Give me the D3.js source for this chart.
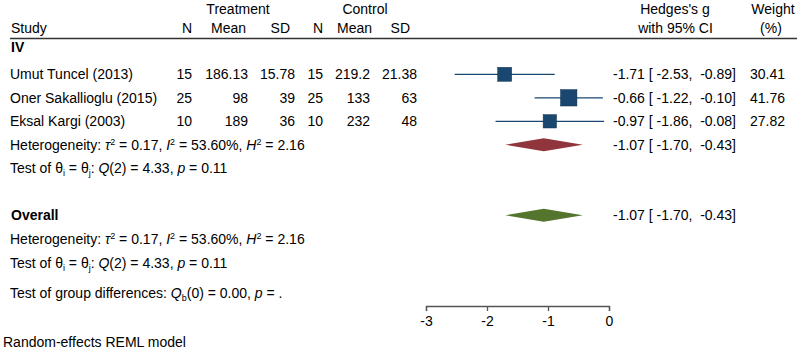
<!DOCTYPE html>
<html>
<head>
<meta charset="utf-8">
<script src="https://cdn.jsdelivr.net/npm/d3@7"></script>
<style>
  body { margin: 0; background: #fff; }
  svg { display: block; font-family: "Liberation Sans", Arial, sans-serif; font-size: 14px; }
  text { fill: #000; white-space: pre; }
</style>
</head>
<body>
<div class="forest"></div>
<script>
// Data
const studies = ['Umut Tuncel (2013)', 'Oner Sakallioglu (2015)', 'Eksal Kargi (2003)'];
const nT = [15, 25, 10];
const meanT = ['186.13', '98', '189'];
const sdT = ['15.78', '39', '36'];
const nC = [15, 25, 10];
const meanC = ['219.2', '133', '232'];
const sdC = ['21.38', '63', '48'];
const g = [-1.71, -0.66, -0.97];
const ciLow = [-2.53, -1.22, -1.86];
const ciHigh = [-0.89, -0.10, -0.08];
const weight = [30.41, 41.76, 27.82];

// pooled estimates: subgroup IV, overall
const pooled = [
    { name: 'IV', g: -1.07, lo: -1.70, hi: -0.43 },
    { name: 'Overall', g: -1.07, lo: -1.70, hi: -0.43 }
];
const het = { tau2: '0.17', i2: '53.60%', h2: '2.16', df: 2, q: '4.33', p: '0.11' };
const groupTest = { df: 0, q: '0.00', p: '.' };
const ticks = [-3, -2, -1, 0];

// 用一般的 "-" 而不是 unicode minus
const fmt = d => d.toFixed(2);
// Stata 的 "[%6.2f, %6.2f]" 格式
const ciText = (est, lo, hi) => `${fmt(est)} [ ${fmt(lo)},  ${fmt(hi)}]`;

// set svg
const svg_width = 800, svg_height = 352;
const svg = d3.select('.forest').append('svg')
    .attr('width', svg_width).attr('height', svg_height);

const xScale = d3.scaleLinear([-3, 0], [426, 609]);
// row positions (row 0 = first study)
const rowY = d3.scaleLinear([0, 1], [74.3, 97.8]);
const sizeScale = d3.scaleSqrt([0, 100], [0, 25.4]);

const blue = '#1a476f', red = '#90353b', green = '#55752f';

function txt(x, y, s, anchor, bold) {
    return svg.append('text').attr('x', x).attr('y', y).attr('dy', '0.35em')
        .attr('text-anchor', anchor || 'start')
        .style('font-weight', bold ? 'bold' : null)
        .text(s);
}

// header
const h1 = rowY(-2.79), h2 = rowY(-1.97);
txt(238, h1, 'Treatment', 'middle');
txt(365, h1, 'Control', 'middle');
txt(675, h1, "Hedges's g", 'middle');
txt(773, h1, 'Weight', 'middle');
txt(11, h2, 'Study');
[['N', 192], ['Mean', 246], ['SD', 290], ['N', 323], ['Mean', 372], ['SD', 410]]
    .forEach(d => txt(d[1], h2, d[0], 'end'));
txt(675.5, h2, 'with 95% CI', 'middle');
txt(771, h2, '(%)', 'middle');
svg.append('line').attr('x1', 10).attr('x2', 797).attr('y1', 38.5).attr('y2', 38.5)
    .attr('stroke', '#333').attr('stroke-width', 1.5);

txt(11, rowY(-1.17), 'IV', 'start', true);

// study rows
const cols = [[nT, 192], [meanT, 248], [sdT, 295], [nC, 323], [meanC, 370], [sdC, 417]];
studies.forEach((s, i) => {
    const y = rowY(i);
    txt(10, y, s);
    cols.forEach(c => txt(c[1], y, String(c[0][i]), 'end'));
    txt(613, y, ciText(g[i], ciLow[i], ciHigh[i]));
    txt(785, y, fmt(weight[i]), 'end');
});

// CI lines + squares
const marks = svg.append('g').attr('class', 'marks');
marks.selectAll('.ci').data(studies).join('line')
    .attr('class', 'ci')
    .attr('x1', (d, i) => xScale(ciLow[i])).attr('x2', (d, i) => xScale(ciHigh[i]))
    .attr('y1', (d, i) => rowY(i)).attr('y2', (d, i) => rowY(i))
    .attr('stroke', blue).attr('stroke-width', 1.2);
marks.selectAll('.sq').data(studies).join('rect')
    .attr('class', 'sq')
    .attr('x', (d, i) => xScale(g[i]) - sizeScale(weight[i]) / 2)
    .attr('y', (d, i) => rowY(i) - sizeScale(weight[i]) / 2)
    .attr('width', (d, i) => sizeScale(weight[i]))
    .attr('height', (d, i) => sizeScale(weight[i]))
    .attr('fill', blue).attr('stroke', '#123654').attr('stroke-width', 0.5);

// 上標 / 下標 (dy 用 px, 避免 em 跟著小字體變動)
function sup(t, s) {
    t.append('tspan').attr('dy', -5).style('font-size', '9px').text(s);
    return t.append('tspan').attr('dy', 5);
}
function sub(t, s) {
    t.append('tspan').attr('dy', 3).style('font-size', '9px').text(s);
    return t.append('tspan').attr('dy', -3);
}
function ital(t, s) {
    t.append('tspan').style('font-style', 'italic').text(s);
}

function hetLine(y) {
    const t = txt(10, y, 'Heterogeneity: ');
    ital(t, 'τ');
    sup(t, '2').text(` = ${het.tau2}, `);
    ital(t, 'I');
    sup(t, '2').text(` = ${het.i2}, `);
    ital(t, 'H');
    sup(t, '2').text(` = ${het.h2}`);
}
function testLine(y) {
    const t = txt(10, y, 'Test of θ');
    sub(t, 'i').text(' = θ');
    sub(t, 'j').text(': ');
    ital(t, 'Q');
    t.append('tspan').text(`(${het.df}) = ${het.q}, `);
    ital(t, 'p');
    t.append('tspan').text(` = ${het.p}`);
}

hetLine(rowY(3));
testLine(rowY(4));

// pooled diamonds
const dia = [[pooled[0], rowY(3), red], [pooled[1], rowY(6), green]];
dia.forEach(d => {
    const p = d[0], y = d[1];
    svg.append('path')
        .attr('d', `M${xScale(p.lo)},${y} L${xScale(p.g)},${y - 6.5} L${xScale(p.hi)},${y} L${xScale(p.g)},${y + 6.5} Z`)
        .attr('fill', d[2]);
    txt(613, y, ciText(p.g, p.lo, p.hi));
});

txt(11, rowY(6), 'Overall', 'start', true);
hetLine(rowY(7.03));
testLine(rowY(8.03));

// group differences
const gt = txt(10, rowY(9.3), 'Test of group differences: ');
ital(gt, 'Q');
sub(gt, 'b').text(`(${groupTest.df}) = ${groupTest.q}, `);
ital(gt, 'p');
gt.append('tspan').text(` = ${groupTest.p}`);

// x axis
const xAxis = d3.axisBottom(xScale).tickValues(ticks).tickFormat(d => String(d))
    .tickSizeInner(5).tickSizeOuter(5).tickPadding(5);
const axisG = svg.append('g').attr('transform', 'translate(0,306)').call(xAxis);
axisG.select('.domain').attr('stroke', '#555').attr('stroke-width', 1.3);
axisG.selectAll('.tick line').attr('stroke', '#555').attr('stroke-width', 1.3);
axisG.selectAll('.tick text').style('font-size', '14px')
    .style('font-family', '"Liberation Sans", Arial, sans-serif').attr('fill', '#000');

txt(3, 342, 'Random-effects REML model');
</script>
</body>
</html>
